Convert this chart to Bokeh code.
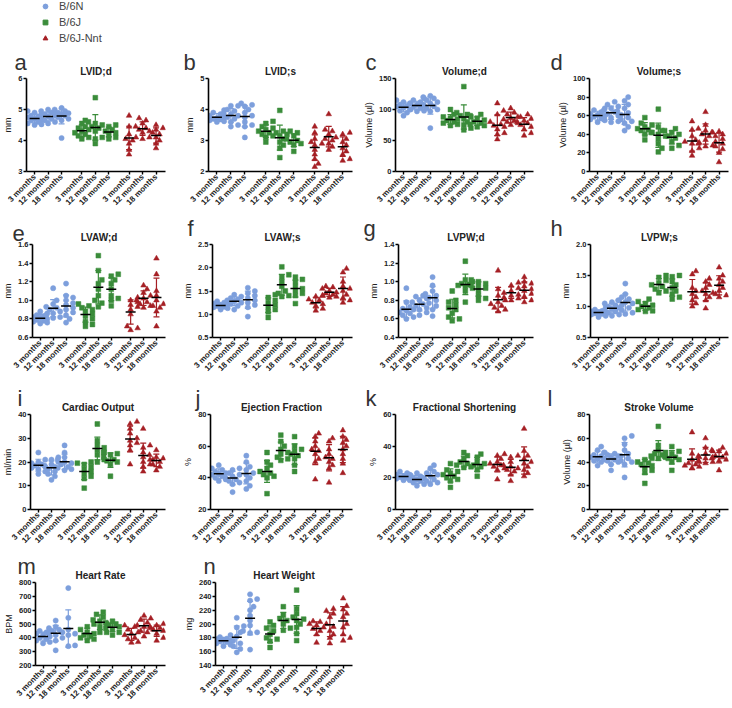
import numpy as np
from bokeh.plotting import figure
from bokeh.models import FixedTicker, Range1d, Legend, LegendItem, Title, PrintfTickFormatter
from bokeh.layouts import column, row
from bokeh.embed import file_html
from bokeh.resources import INLINE

# ---------------- data ----------------
strains = ["B/6N", "B/6J", "B/6J-Nnt"]
ages = ["3 months", "12 months", "18 months"]
ages_n = ["3 month", "12 month", "18 month"]
letters = list("abcdefghijklmn")
titles = ["LVID;d", "LVID;s", "Volume;d", "Volume;s", "LVAW;d", "LVAW;s", "LVPW;d", "LVPW;s",
          "Cardiac Output", "Ejection Fraction", "Fractional Shortening", "Stroke Volume",
          "Heart Rate", "Heart Weight"]
ylabels = ["mm", "mm", "Volume (µl)", "Volume (µl)", "mm", "mm", "mm", "mm",
           "ml/min", "%", "%", "Volume (µl)", "BPM", "mg"]
ylims = [(3, 6), (2, 5), (0, 150), (0, 100), (0.6, 1.6), (0.5, 2.5), (0.4, 1.4), (0.5, 2.0),
         (0, 40), (20, 80), (0, 60), (0, 80), (200, 800), (140, 260)]
ysteps = [1, 1, 50, 20, 0.2, 0.5, 0.2, 0.5, 10, 20, 20, 20, 100, 20]

# each list: 9 groups = B/6N 3,12,18 ; B/6J 3,12,18 ; B/6J-Nnt 3,12,18
lvid_d = [
    [4.95, 4.9, 4.85, 4.8, 4.78, 4.75, 4.7, 4.68, 4.65, 4.6, 4.55, 4.5, 4.52],
    [5.0, 4.95, 4.9, 4.85, 4.8, 4.78, 4.72, 4.7, 4.65, 4.6, 4.55],
    [5.05, 5.0, 4.95, 4.9, 4.88, 4.85, 4.85, 4.8, 4.75, 4.7, 4.65, 4.08],
    [4.65, 4.55, 4.45, 4.4, 4.35, 4.3, 4.25, 4.2, 4.15, 4.1, 4.05],
    [5.38, 4.6, 4.55, 4.5, 4.45, 4.4, 4.3, 4.1, 4.05, 3.9],
    [4.5, 4.45, 4.35, 4.3, 4.25, 4.2, 4.1, 4.05],
    [4.8, 4.45, 4.2, 4.1, 4.05, 4.0, 3.9, 3.7, 3.55],
    [4.72, 4.65, 4.55, 4.45, 4.4, 4.35, 4.3, 4.25, 4.1, 4.05],
    [4.5, 4.4, 4.35, 4.25, 4.2, 4.1, 4.0, 3.9, 3.75],
]
lvid_s = [
    [3.98, 3.9, 3.85, 3.8, 3.75, 3.72, 3.7, 3.68, 3.65, 3.62, 3.6],
    [4.12, 4.12, 4.0, 3.95, 3.88, 3.85, 3.8, 3.75, 3.7, 3.6, 3.5, 3.45],
    [4.2, 4.15, 4.1, 4.0, 3.9, 3.8, 3.75, 3.6, 3.5, 3.45, 3.1],
    [3.62, 3.55, 3.45, 3.4, 3.35, 3.3, 3.25, 3.2, 3.15, 3.1, 2.95],
    [3.97, 3.3, 3.25, 3.2, 3.15, 3.05, 2.95, 2.85, 2.75, 2.45],
    [3.3, 3.25, 3.15, 3.05, 3.0, 2.95, 2.9, 2.85, 2.65],
    [3.45, 3.25, 3.05, 2.95, 2.9, 2.85, 2.7, 2.55, 2.4, 2.25, 2.15],
    [3.85, 3.35, 3.3, 3.2, 3.1, 3.05, 3.0, 2.9, 2.8, 2.7],
    [3.25, 3.2, 3.05, 2.95, 2.85, 2.75, 2.65, 2.55, 2.4, 2.35],
]
vol_d = [
    [115, 112, 110, 108, 106, 105, 103, 100, 98, 95, 90],
    [118, 115, 112, 110, 108, 106, 104, 102, 100, 98, 97],
    [122, 120, 118, 115, 112, 110, 108, 105, 102, 100, 97, 70],
    [100, 92, 88, 86, 84, 82, 80, 78, 76, 74],
    [137, 95, 92, 90, 88, 85, 80, 75, 70, 67],
    [92, 90, 86, 83, 80, 78, 76, 74, 72],
    [110, 92, 80, 76, 74, 72, 68, 62, 60, 52],
    [102, 98, 95, 92, 88, 86, 84, 82, 80, 78, 75],
    [92, 88, 85, 82, 80, 78, 75, 72, 68, 62, 58],
]
vol_s = [
    [68, 66, 64, 62, 61, 60, 59, 57, 56, 55, 53],
    [75, 72, 70, 68, 66, 64, 62, 60, 58, 56, 54, 53],
    [80, 76, 72, 68, 65, 63, 61, 58, 56, 54, 52, 48, 44],
    [58, 52, 50, 48, 46, 45, 44, 42, 40, 34],
    [67, 48, 44, 42, 40, 38, 35, 30, 25, 21],
    [46, 44, 42, 40, 38, 36, 32, 28, 25],
    [54, 45, 38, 34, 32, 31, 30, 25, 22, 17],
    [64, 50, 46, 44, 42, 40, 38, 34, 30, 28, 27],
    [43, 42, 40, 38, 35, 32, 30, 27, 24, 20, 10],
]
lvaw_d = [
    [0.88, 0.86, 0.84, 0.83, 0.82, 0.81, 0.80, 0.79, 0.78, 0.77, 0.76, 0.75],
    [1.13, 1.0, 0.96, 0.93, 0.92, 0.90, 0.88, 0.86, 0.84, 0.82, 0.81],
    [1.18, 1.05, 1.03, 1.0, 0.97, 0.95, 0.92, 0.9, 0.87, 0.84, 0.80, 0.76],
    [0.96, 0.94, 0.92, 0.9, 0.88, 0.85, 0.83, 0.8, 0.77, 0.74, 0.72],
    [1.48, 1.32, 1.22, 1.18, 1.12, 1.05, 1.0, 0.97, 0.93],
    [1.28, 1.26, 1.22, 1.18, 1.12, 1.05, 1.02, 1.0, 0.94],
    [1.03, 1.0, 0.98, 0.95, 0.93, 0.9, 0.85, 0.72, 0.70, 0.68],
    [1.16, 1.12, 1.08, 1.05, 1.02, 1.0, 0.98, 0.96, 0.94, 0.92],
    [1.45, 1.28, 1.1, 1.05, 1.0, 0.96, 0.94, 0.92, 0.88, 0.72],
]
lvaw_s = [
    [1.28, 1.25, 1.23, 1.22, 1.2, 1.18, 1.16, 1.15, 1.13, 1.1],
    [1.42, 1.38, 1.35, 1.32, 1.3, 1.28, 1.25, 1.22, 1.18, 1.1],
    [1.57, 1.5, 1.45, 1.4, 1.35, 1.3, 1.25, 1.2, 1.15, 0.95],
    [1.42, 1.36, 1.3, 1.25, 1.2, 1.15, 1.1, 1.05, 0.93],
    [2.02, 1.85, 1.8, 1.7, 1.6, 1.5, 1.45, 1.4, 1.38],
    [1.8, 1.75, 1.7, 1.6, 1.55, 1.5, 1.45, 1.4, 1.23],
    [1.4, 1.38, 1.32, 1.3, 1.25, 1.22, 1.18, 1.12, 1.08],
    [1.6, 1.58, 1.55, 1.5, 1.47, 1.45, 1.42, 1.4, 1.38, 1.36],
    [1.98, 1.9, 1.7, 1.6, 1.55, 1.5, 1.42, 1.35, 1.3, 1.25],
]
lvpw_d = [
    [0.93, 0.78, 0.73, 0.71, 0.7, 0.69, 0.67, 0.66, 0.64, 0.62, 0.6],
    [0.85, 0.84, 0.82, 0.8, 0.78, 0.76, 0.74, 0.72, 0.7, 0.67, 0.64],
    [1.05, 0.96, 0.9, 0.87, 0.85, 0.83, 0.8, 0.77, 0.74, 0.7, 0.63],
    [0.9, 0.8, 0.78, 0.75, 0.72, 0.7, 0.66, 0.62, 0.6, 0.58],
    [1.22, 1.02, 1.0, 0.98, 0.97, 0.96, 0.95, 0.93, 0.9, 0.78],
    [1.02, 1.0, 0.98, 0.96, 0.95, 0.93, 0.9, 0.85, 0.82, 0.8],
    [1.12, 0.92, 0.85, 0.8, 0.78, 0.76, 0.74, 0.72, 0.7, 0.68],
    [0.99, 0.96, 0.93, 0.9, 0.88, 0.86, 0.85, 0.83, 0.82, 0.8],
    [1.05, 1.0, 0.98, 0.95, 0.92, 0.9, 0.87, 0.84, 0.8, 0.78],
]
lvpw_s = [
    [0.99, 0.95, 0.93, 0.92, 0.91, 0.9, 0.89, 0.88, 0.87, 0.85, 0.83],
    [1.1, 1.07, 1.05, 1.02, 1.0, 0.98, 0.96, 0.94, 0.92, 0.9, 0.87, 0.85],
    [1.37, 1.2, 1.15, 1.12, 1.1, 1.07, 1.05, 1.02, 0.98, 0.94, 0.9, 0.88],
    [1.12, 1.08, 1.05, 1.02, 1.0, 0.98, 0.95, 0.93, 0.92],
    [1.5, 1.47, 1.42, 1.38, 1.35, 1.32, 1.28, 1.25, 1.22],
    [1.5, 1.48, 1.4, 1.35, 1.3, 1.25, 1.2, 1.15, 1.12],
    [1.57, 1.52, 1.3, 1.25, 1.2, 1.15, 1.1, 1.05, 1.0],
    [1.45, 1.4, 1.35, 1.3, 1.25, 1.22, 1.2, 1.15, 1.1, 0.97],
    [1.63, 1.5, 1.45, 1.4, 1.35, 1.3, 1.25, 1.2, 1.18, 1.15],
]
cardiac_output = [
    [24, 21, 20, 19.5, 19, 18.5, 18, 17.5, 17, 16, 15],
    [22, 21, 20, 19, 18.5, 18, 17, 16, 15, 14, 12.5],
    [27, 24, 22, 21, 20, 19.5, 19, 18, 17.5, 17, 16.5],
    [20, 19.5, 19, 18, 17, 16, 15, 14, 13, 9],
    [36, 29, 27, 26, 25, 24, 23, 21, 20],
    [24, 23.5, 23, 22, 21, 20.5, 20, 19, 14],
    [37, 36, 34, 32, 30, 29, 28, 27, 25, 19],
    [34, 27, 26, 24, 22, 21, 20, 19, 18, 16],
    [25, 23, 22, 21.5, 21, 20, 19, 18, 16.5],
]
ejection_fraction = [
    [48, 46, 45, 44, 43, 42.5, 42, 41, 40, 39, 38],
    [46, 45, 43, 42, 41, 40, 39, 38, 37, 36, 31],
    [54, 50, 47, 45, 43, 42, 40, 38, 35, 33],
    [56, 50, 48, 46, 44, 43, 42, 41, 40, 30],
    [67, 63, 60, 58, 56, 55, 53, 52, 51],
    [66, 60, 58, 57, 55, 54, 52, 48, 44],
    [68, 66, 63, 60, 58, 57, 55, 52, 50, 39],
    [65, 63, 58, 55, 53, 52, 50, 48, 46, 37],
    [70, 66, 64, 62, 60, 58, 55, 52, 49, 43],
]
fractional_shortening = [
    [24, 23, 22, 21.5, 21, 20.5, 20, 19.5, 19, 18.5],
    [23, 22, 21, 20, 19.5, 19, 18.5, 18, 17, 16, 15],
    [28, 26, 24, 23, 22, 21, 20, 19, 18, 17, 16],
    [29, 25, 24, 23, 22, 21, 20, 19, 18, 14],
    [36, 34, 32, 30, 29, 28, 27, 26.5],
    [35, 33, 30, 29, 28, 27, 25, 21],
    [35, 34, 32, 30, 29, 28, 27, 26, 25, 19],
    [34, 33, 30, 28, 27, 26, 25, 24, 22, 18],
    [51, 37, 34, 32, 30, 29, 27, 25, 23, 21],
]
stroke_volume = [
    [53, 50, 48, 46, 45, 44, 43, 42, 41, 40, 37],
    [48, 47, 46, 45, 44, 43, 42, 41, 40, 38, 33],
    [62, 60, 55, 50, 47, 45, 43, 41, 40, 38, 27],
    [43, 42, 40, 39, 38, 37, 35, 33, 31, 22],
    [70, 54, 50, 48, 47, 46, 45, 44, 43],
    [53, 49, 47, 45, 44, 43, 42, 40, 33],
    [65, 47, 44, 42, 40, 39, 38, 37, 36, 35],
    [60, 52, 49, 47, 45, 44, 43, 41, 40, 39],
    [52, 50, 49, 47, 45, 44, 43, 42, 41, 33],
]
heart_rate = [
    [455, 450, 440, 430, 420, 410, 400, 390, 380, 370, 360],
    [525, 480, 470, 460, 450, 440, 430, 420, 400, 380, 310],
    [760, 545, 460, 440, 430, 420, 345, 340],
    [500, 480, 460, 440, 430, 420, 410, 400, 390, 380],
    [585, 570, 550, 530, 520, 500, 480, 440, 440],
    [520, 510, 500, 490, 480, 470, 460, 440, 420],
    [490, 480, 460, 440, 430, 420, 400, 390, 370, 365],
    [560, 540, 530, 510, 490, 480, 470, 450, 440, 410],
    [500, 490, 480, 470, 460, 450, 430, 400, 380],
]
heart_weight = [
    [184, 181, 179, 178, 177, 176, 175, 174, 172, 170, 168],
    [209, 197, 195, 188, 182, 176, 172, 168, 164, 159],
    [243, 236, 234, 225, 220, 212, 205, 198, 190, 188, 187, 163],
    [203, 198, 194, 190, 185, 180, 178, 175, 166],
    [225, 213, 208, 205, 200, 194, 191],
    [249, 222, 215, 210, 207, 205, 200, 195, 186, 176],
    [204, 203, 200, 198, 195, 193, 190, 185, 173],
    [222, 219, 215, 210, 200, 196, 190, 185, 180, 172],
    [237, 226, 221, 215, 210, 200, 195, 185, 180, 176],
]
panels = [lvid_d, lvid_s, vol_d, vol_s, lvaw_d, lvaw_s, lvpw_d, lvpw_s,
          cardiac_output, ejection_fraction, fractional_shortening, stroke_volume,
          heart_rate, heart_weight]

# ---------------- style / layout ----------------
COLORS = ["#7d9fdc", "#3a8c3a", "#a51f24"]
MARKERS = ["circle", "square", "triangle"]
MSIZE = [5.2, 4.8, 5.6]
POS = [0, 1, 2, 3.5, 4.5, 5.5, 7, 8, 9]
FONT = "Liberation Sans"

COL_W = [180, 180, 185, 187]
COL_BR = [15, 8, 12, 4]
PANEL_BL = [20, 28, 33, 44, 28, 28, 38, 45, 23, 25, 35, 44, 26, 32]
PANEL_LX = [-12, -25, -30, -39, -20, -25, -35, -40, -13, -15, -30, -42, -18, -12]
LEGEND_H = 47
ROW_H = [166, 170, 168, 156]
ROW_BT = [31, 31, 31, 31]
ROW_BB = [40, 46, 41, 40]


def swarm(vals, ypx, xpx, d=4.6, step=3.6, kmax=2):
    vals = np.asarray(vals, dtype=float)
    order = np.argsort(vals)
    placed = []
    offs = np.zeros(len(vals))
    cands = [0]
    for k in range(1, kmax + 1):
        cands += [k, -k]
    for idx in order:
        y = vals[idx] * ypx
        best, bestd = 0.0, -1
        for k in cands:
            x = k * step
            md = min([np.hypot(x - px, y - py) for px, py in placed] + [1e9])
            if md >= d:
                best = x
                break
            if md > bestd:
                bestd, best = md, x
        placed.append((best, y))
        offs[idx] = best / xpx
    return offs


def make_panel(i, r, c):
    w, h = COL_W[c], ROW_H[r]
    bl, br, bt, bb = PANEL_BL[i], COL_BR[c], ROW_BT[r], ROW_BB[r]
    y0, y1 = ylims[i]
    p = figure(width=w, height=h, output_backend="svg", toolbar_location=None, title=None,
               x_range=Range1d(-0.6, 9.7), y_range=Range1d(y0, y1),
               min_border_left=bl, min_border_right=br, min_border_top=bt, min_border_bottom=bb)
    p.outline_line_color = None
    p.grid.visible = False
    p.background_fill_color = None
    p.border_fill_color = None

    p.add_layout(Title(text=titles[i], align="center", vertical_align="bottom", standoff=3,
                       text_font=FONT, text_font_size="10px", text_font_style="bold",
                       text_color="#222222"), "above")
    p.add_layout(Title(text=letters[i], align="left", vertical_align="bottom", standoff=-25,
                       offset=PANEL_LX[i], text_font=FONT, text_font_size="22px",
                       text_font_style="normal", text_color="#333333"), "above")

    for ax in (p.xaxis[0], p.yaxis[0]):
        ax.axis_line_width = 1.6
        ax.axis_line_color = "black"
        ax.major_tick_line_width = 1.4
        ax.major_tick_out = 3
        ax.major_tick_in = 0
        ax.minor_tick_line_color = None
        ax.major_label_text_font = FONT
        ax.major_label_text_font_style = "bold"
        ax.major_label_text_color = "#222222"
        ax.major_label_standoff = 1

    p.yaxis.ticker = FixedTicker(ticks=list(np.round(np.arange(y0, y1 + 1e-9, ysteps[i]), 6)))
    if ysteps[i] < 1:
        p.yaxis.formatter = PrintfTickFormatter(format="%.1f")
    p.yaxis.major_label_text_font_size = "7.5px"
    p.yaxis.axis_label = ylabels[i]
    p.yaxis.axis_label_text_font = FONT
    p.yaxis.axis_label_text_font_size = "9px"
    p.yaxis.axis_label_text_font_style = "normal"
    p.yaxis.axis_label_text_color = "#222222"
    p.yaxis.axis_label_standoff = 2

    labs = ages_n if i == 13 else ages
    p.xaxis.ticker = FixedTicker(ticks=POS)
    p.xaxis.major_label_overrides = {float(x): labs[k % 3] for k, x in enumerate(POS)}
    p.xaxis.major_label_orientation = np.pi / 4
    p.xaxis.major_label_text_font_size = "8px"

    fh = h - bt - bb
    fw = w - bl - br
    ypx = fh / (y1 - y0)
    xpx = fw / 10.3
    vals = panels[i]
    means, sds = [], []
    for g in range(9):
        s = g // 3
        v = np.asarray(vals[g], dtype=float)
        xs = POS[g] + swarm(v, ypx, xpx)
        p.scatter(xs, v, marker=MARKERS[s], size=MSIZE[s], fill_color=COLORS[s],
                  line_color=COLORS[s], line_width=0.5)
        means.append(v.mean())
        sds.append(v.std(ddof=1))
    means = np.array(means)
    sds = np.array(sds)
    cols = [COLORS[g // 3] for g in range(9)]
    p.segment(x0=POS, y0=means - sds, x1=POS, y1=means + sds, line_color=cols, line_width=1.2)
    p.scatter(POS, means + sds, marker="dash", size=6, line_color=cols, line_width=1.2)
    p.scatter(POS, means - sds, marker="dash", size=6, line_color=cols, line_width=1.2)
    p.scatter(POS, means, marker="dash", size=10, line_color="black", line_width=1.5)
    return p


# legend figure (proxy renderers sit outside the visible range)
lf = figure(width=220, height=LEGEND_H, output_backend="svg", toolbar_location=None, title=None,
            x_range=Range1d(0, 1), y_range=Range1d(0, 1),
            min_border_left=39, min_border_right=0, min_border_top=0, min_border_bottom=0)
lf.axis.visible = False
lf.grid.visible = False
lf.outline_line_color = None
lf.background_fill_color = None
lf.border_fill_color = None
items = []
for s in range(3):
    rr = lf.scatter(x=[5], y=[5], marker=MARKERS[s], size=MSIZE[s] + 0.5, fill_color=COLORS[s],
                    line_color=COLORS[s])
    items.append(LegendItem(label=strains[s], renderers=[rr]))
leg = Legend(items=items, location=(0, LEGEND_H - 46), margin=0, padding=0, spacing=0,
             label_height=16, glyph_height=16, glyph_width=12, label_standoff=8,
             border_line_color=None, background_fill_alpha=0,
             label_text_font=FONT, label_text_font_size="11px", label_text_color="#444444")
lf.add_layout(leg)

rows = []
idx = 0
for r, ncol in enumerate([4, 4, 4, 2]):
    figs = []
    for c in range(ncol):
        figs.append(make_panel(idx, r, c))
        idx += 1
    rows.append(row(*figs))

layout = column(lf, *rows)
open("out.html", "w").write(file_html(layout, INLINE))
